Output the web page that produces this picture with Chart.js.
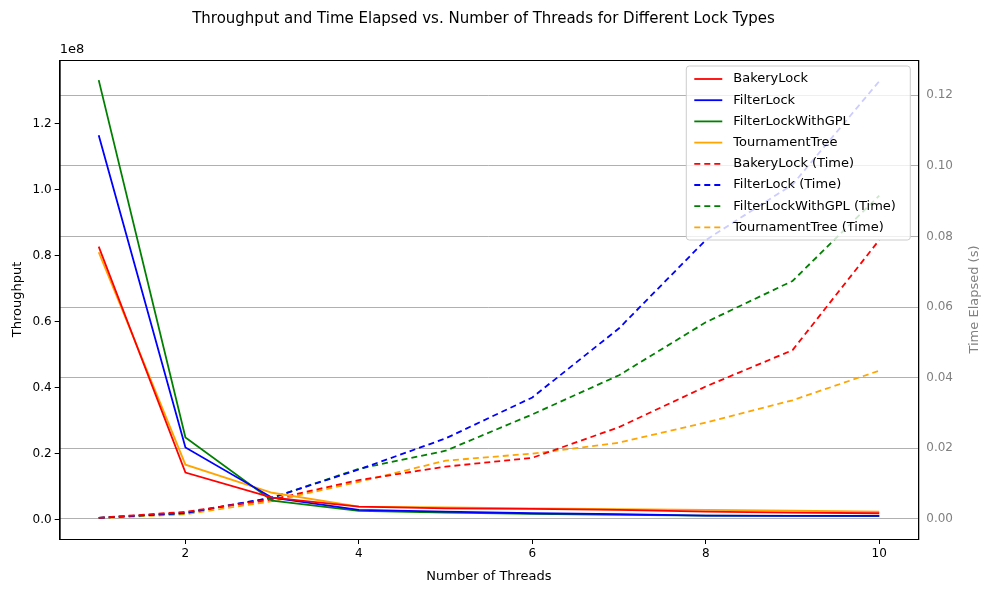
<!DOCTYPE html>
<html><head><meta charset="utf-8">
<script src="https://cdn.jsdelivr.net/npm/chart.js@4"></script>
<style>body{margin:0;background:#fff}#wrap{width:989px;height:592px}</style>
</head><body><div id="wrap"><canvas id="c"></canvas></div>
<script>
const threads = [1,2,3,4,5,6,7,8,9,10];
const lockNames = ["BakeryLock","FilterLock","FilterLockWithGPL","TournamentTree"];
const lockColors = ["red","blue","green","orange"];
// throughput in units of 1e8
const bakeryTp = [0.827,0.143,0.067,0.040,0.035,0.033,0.030,0.025,0.022,0.020];
const filterTp = [1.164,0.219,0.067,0.030,0.025,0.020,0.017,0.013,0.012,0.012];
const gplTp = [1.331,0.249,0.058,0.027,0.022,0.018,0.015,0.013,0.012,0.011];
const tourTp = [0.810,0.167,0.082,0.040,0.038,0.035,0.032,0.030,0.028,0.025];
// time elapsed in seconds
const bakeryTime = [0.0003,0.0020,0.0055,0.0110,0.0148,0.0173,0.0260,0.0375,0.0478,0.0790];
const filterTime = [0.0003,0.0017,0.0060,0.0140,0.0228,0.0344,0.0540,0.0790,0.0947,0.1240];
const gplTime = [0.0003,0.0016,0.0060,0.0142,0.0193,0.0296,0.0407,0.0557,0.0674,0.0916];
const tourTime = [0.0002,0.0013,0.0050,0.0105,0.0165,0.0185,0.0216,0.0273,0.0336,0.0420];

const tps = [bakeryTp, filterTp, gplTp, tourTp];
const times = [bakeryTime, filterTime, gplTime, tourTime];
const pts = a => a.map((v,i) => ({x: threads[i], y: v}));
const datasets = [];
tps.forEach((d,i) => datasets.push({label: lockNames[i], data: pts(d), borderColor: lockColors[i], yAxisID: "y"}));
times.forEach((d,i) => datasets.push({label: lockNames[i] + " (Time)", data: pts(d), borderColor: lockColors[i], borderDash: [6,4], yAxisID: "y2"}));

const font = {family: "DejaVu Sans", size: 12};
const extras = {
  id: "extras",
  afterDraw(chart) {
    const ctx = chart.ctx, a = chart.chartArea;
    ctx.save();
    // frame
    ctx.strokeStyle = "#000"; ctx.lineWidth = 1;
    ctx.strokeRect(a.left + 0.5, a.top + 0.5, a.right - a.left, a.bottom - a.top);
    // legend
    const w = 224, h = 174, x = a.right - w - 8, y = a.top + 6;
    ctx.fillStyle = "rgba(255,255,255,0.8)";
    ctx.strokeStyle = "#ccc";
    ctx.beginPath(); ctx.roundRect(x, y, w, h, 3); ctx.fill(); ctx.stroke();
    ctx.font = "13px 'DejaVu Sans'";
    ctx.textBaseline = "middle";
    chart.data.datasets.forEach((ds, i) => {
      const ly = y + 13 + i * 21.2;
      ctx.strokeStyle = ds.borderColor; ctx.lineWidth = 1.8;
      ctx.setLineDash(ds.borderDash || []);
      ctx.beginPath(); ctx.moveTo(x + 8, ly); ctx.lineTo(x + 36, ly); ctx.stroke();
      ctx.setLineDash([]);
      ctx.fillStyle = "#000";
      ctx.fillText(ds.label, x + 47, ly);
    });
    ctx.textBaseline = "bottom";
    ctx.fillText("1e8", a.left, a.top - 4);
    // right axis title, reading bottom to top
    ctx.fillStyle = "#808080";
    ctx.textAlign = "center";
    ctx.textBaseline = "bottom";
    ctx.translate(chart.width - 8, (a.top + a.bottom) / 2);
    ctx.rotate(-Math.PI / 2);
    ctx.fillText("Time Elapsed (s)", 0, 0);
    ctx.restore();
  }
};

new Chart(document.getElementById("c"), {
  type: "line",
  data: {datasets},
  options: {
    responsive: true, maintainAspectRatio: false, animation: false,
    layout: {padding: {top: 10, right: 28, bottom: 4, left: 6}},
    elements: {point: {radius: 0}, line: {borderWidth: 1.8, tension: 0}},
    plugins: {
      legend: {display: false},
      tooltip: {enabled: false},
      title: {display: true, text: "Throughput and Time Elapsed vs. Number of Threads for Different Lock Types",
        color: "#000", font: {family: "DejaVu Sans", size: 15, weight: "normal"}, padding: {top: 0, bottom: 32}}
    },
    scales: {
      x: {type: "linear", min: 0.55, max: 10.45,
        afterBuildTicks: s => { s.ticks = [2,4,6,8,10].map(v => ({value: v})); },
        grid: {display: true, drawOnChartArea: false, drawTicks: true, tickLength: 5, color: "#000"},
        border: {color: "#000"},
        ticks: {color: "#000", font, autoSkip: false},
        title: {display: true, text: "Number of Threads", color: "#000", font: {family: "DejaVu Sans", size: 13}}},
      y: {position: "left", min: -0.058, max: 1.392,
        afterBuildTicks: s => { s.ticks = [0,0.2,0.4,0.6,0.8,1.0,1.2].map(v => ({value: v})); },
        grid: {display: true, drawOnChartArea: false, tickLength: 5, color: "#000"}, border: {color: "#000"},
        ticks: {color: "#000", font, callback: v => v.toFixed(1)},
        title: {display: true, text: "Throughput", color: "#000", font: {family: "DejaVu Sans", size: 13}}},
      y2: {position: "right", min: -0.0057, max: 0.13,
        afterBuildTicks: s => { s.ticks = [0,0.02,0.04,0.06,0.08,0.10,0.12].map(v => ({value: v})); },
        grid: {display: true, color: "#b0b0b0", drawTicks: false}, border: {color: "#000"},
        ticks: {color: "#808080", font, padding: 8, callback: v => v.toFixed(2)}}
    }
  },
  plugins: [extras]
});
</script></body></html>
